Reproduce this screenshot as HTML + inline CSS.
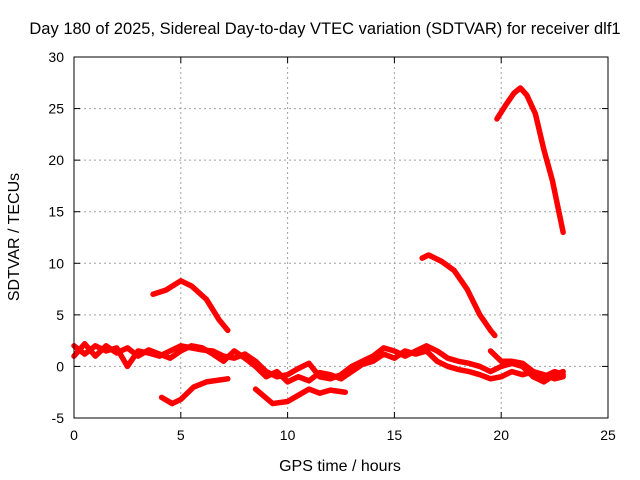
<!DOCTYPE html>
<html><head><meta charset="utf-8"><style>
body{margin:0;background:#fff}
svg{display:block;font-family:"Liberation Sans",sans-serif}
</style></head><body>
<svg id="chart" width="640" height="480">
<text x="325" y="34" font-size="16.5" text-anchor="middle">Day 180 of 2025, Sidereal Day-to-day VTEC variation (SDTVAR) for receiver dlf1</text>
<text x="340" y="471" font-size="16" text-anchor="middle">GPS time / hours</text>
<text x="0" y="0" font-size="16" text-anchor="middle" transform="translate(19,237) rotate(-90)">SDTVAR / TECUs</text>
<g id="grid"></g>
<g id="series"></g>
<rect x="74" y="57" width="534" height="361" fill="none" stroke="#000" stroke-width="1"/>
<g id="ticks"></g>
</svg>
<script>
const xTicks=[0,5,10,15,20,25];
const yTicks=[-5,0,5,10,15,20,25,30];
const segA=[[19.8,24],[20.2,25.3],[20.6,26.5],[20.9,27],[21.2,26.3],[21.6,24.5],[22.0,21],[22.4,18],[22.9,13]];
const segB=[[16.3,10.5],[16.6,10.8],[17.2,10.2],[17.8,9.3],[18.4,7.5],[19.0,5],[19.5,3.5],[19.7,3]];
const segC=[[3.7,7],[4.3,7.4],[5.0,8.3],[5.5,7.8],[6.2,6.5],[6.8,4.5],[7.2,3.5]];
const segD=[[4.1,-3],[4.6,-3.6],[5.0,-3.2],[5.6,-2],[6.2,-1.5],[7.2,-1.2]];
const segE=[[8.5,-2.2],[9.3,-3.6],[10.0,-3.4],[10.5,-2.8],[11.0,-2.2],[11.5,-2.6],[12.0,-2.3],[12.7,-2.5]];
const band1=[[0,2],[0.5,1.2],[1,2],[1.5,1.5],[2,1.8],[2.5,0],[3,1.5],[3.5,1.3],[4,1],[4.5,1.5],[5,2],[5.5,1.8],[6,1.6],[6.5,1.5],[7,1],[7.5,0.8],[8,1.2],[8.5,0.5],[9,-0.5],[9.5,-1],[10,-0.8],[10.5,-0.2],[11,0.3],[11.5,-1],[12,-1.2],[12.5,-0.8],[13,0],[13.5,0.5],[14,1],[14.5,1.8],[15,1.5],[15.5,1],[16,1.5],[16.5,2],[17,1.5],[17.5,0.8],[18,0.5],[18.5,0.3],[19,0],[19.5,-0.5],[20,0],[20.5,0.3],[21,0],[21.5,-1],[22,-1.5],[22.5,-0.8],[22.9,-0.5]];
const band2=[[0,1],[0.5,2.2],[1,1],[1.5,2],[2,1.3],[2.5,1.8],[3,1],[3.5,1.6],[4,1.2],[4.5,0.8],[5,1.5],[5.5,2],[6,1.8],[6.5,1.2],[7,0.5],[7.5,1.5],[8,0.8],[8.5,0],[9,-1],[9.5,-0.5],[10,-1.5],[10.5,-1],[11,-1.4],[11.5,-0.6],[12,-0.8],[12.5,-1.2],[13,-0.5],[13.5,0.2],[14,0.5],[14.5,1.2],[15,0.8],[15.5,1.5],[16,1.2],[16.5,1.5],[17,0.5],[17.5,0],[18,-0.3],[18.5,-0.5],[19,-0.8],[19.5,-1.2],[20,-1],[20.5,-0.5],[21,-0.8],[21.5,-0.5],[22,-0.8],[22.5,-1.2],[22.9,-1]];
const band3=[[19.5,1.5],[20,0.5],[20.5,0.5],[21,0.3],[21.5,-0.5],[22,-1],[22.5,-0.5],[22.9,-0.8]];
const allSeries=[segA,segB,segC,segD,segE,band1,band2,band3];

const X0=74,X1=608,Y0=418,Y1=57;
const xs=v=>X0+(v-0)/(25-0)*(X1-X0);
const ys=v=>Y0-(v+5)/35*(Y0-Y1);
const NS="http://www.w3.org/2000/svg";
const grid=document.getElementById('grid'),ticks=document.getElementById('ticks'),ser=document.getElementById('series');
function mk(tag,attrs,parent){const e=document.createElementNS(NS,tag);for(const k in attrs)e.setAttribute(k,attrs[k]);parent.appendChild(e);return e;}
xTicks.forEach(t=>{
  const x=xs(t);
  if(t>0&&t<25){const g=mk('line',{x1:x,x2:x,y1:Y1,y2:Y0,stroke:'#a0a0a0','stroke-dasharray':'2,3'},grid);
    
    }
  mk('line',{x1:x,x2:x,y1:Y0,y2:Y0-6,stroke:'#000'},ticks);
  mk('line',{x1:x,x2:x,y1:Y1,y2:Y1+6,stroke:'#000'},ticks);
  const l=mk('text',{x:x,y:Y0+22,'font-size':14,'text-anchor':'middle'},ticks);
  l.textContent=t;
  
  
});
yTicks.forEach(t=>{
  const y=ys(t);
  if(t>-5&&t<30){const g=mk('line',{x1:X0,x2:X1,y1:y,y2:y,stroke:'#a0a0a0','stroke-dasharray':'2,3'},grid);
    
    }
  mk('line',{x1:X0,x2:X0+6,y1:y,y2:y,stroke:'#000'},ticks);
  mk('line',{x1:X1,x2:X1-6,y1:y,y2:y,stroke:'#000'},ticks);
  const l=mk('text',{x:X0-10,y:y+5,'font-size':14,'text-anchor':'end'},ticks);
  l.textContent=t;
  
  
});
allSeries.forEach((s,i)=>{
  const p=mk('polyline',{points:s.map(d=>xs(d[0])+','+ys(d[1])).join(' '),fill:'none',stroke:'#ff0000','stroke-width':5.5,'stroke-linejoin':'round','stroke-linecap':'round'},ser);
  
  
});
</script>
</body></html>
